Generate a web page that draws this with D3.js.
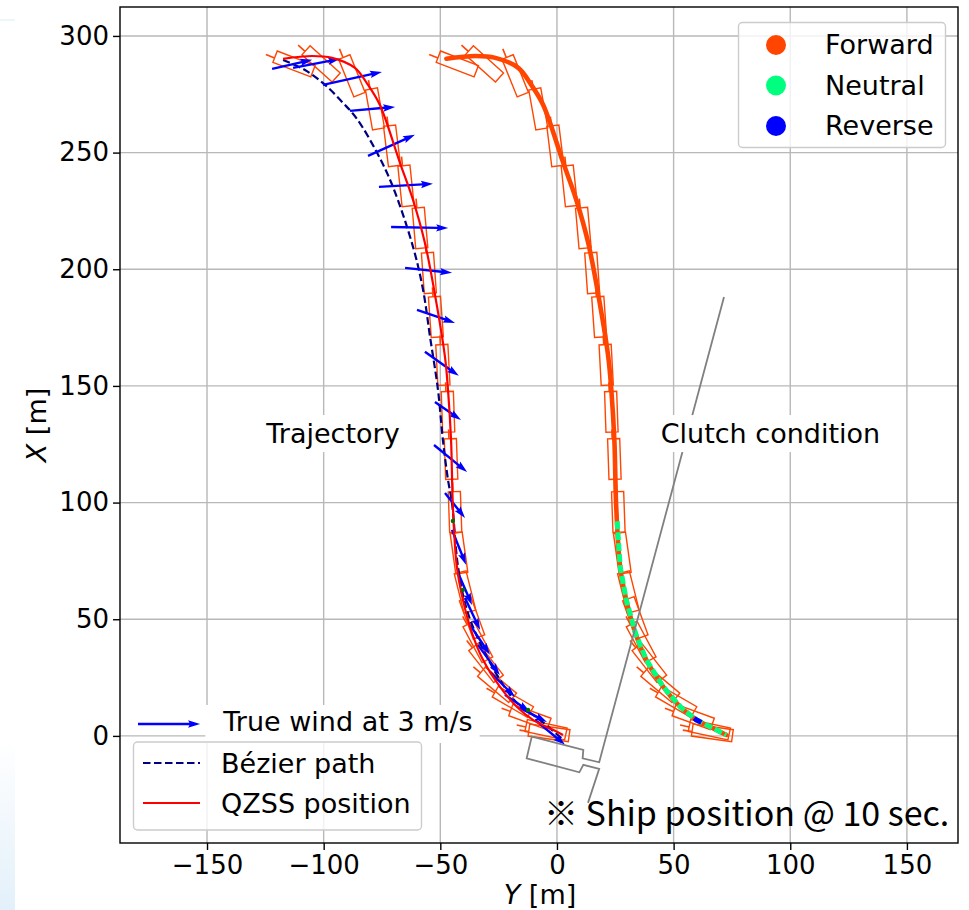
<!DOCTYPE html>
<html>
<head>
<meta charset="utf-8">
<script src="https://cdn.jsdelivr.net/npm/d3@7"></script>
<style>
  body { margin: 0; background: #fff; }
  svg text { font-family: "DejaVu Sans", sans-serif; fill: #000; }
</style>
</head>
<body>
<svg id="chart" width="969" height="910"></svg>
<script>
// ---------- data ----------
const yTickValues = [-150, -100, -50, 0, 50, 100, 150];   // horizontal axis (Y [m])
const xTickValues = [0, 50, 100, 150, 200, 250, 300];     // vertical axis (X [m])

// QZSS position track (Y, X) in metres
const qzssY = [-117.4, -105.0, -96.4, -86.6, -81.0, -75.9, -67.3, -61.7, -56.6, -51.9, -48.0, -46.7, -45.4, -44.6, -42.9, -40.3, -36.4, -31.7, -24.4, -17.1, -10.3, -1.7, 2.6];
const qzssX = [290.2, 291.4, 290.6, 286.3, 279.0, 270.4, 245.6, 229.7, 211.3, 186.9, 162.4, 148.3, 126.9, 98.2, 72.4, 58.3, 44.1, 32.6, 21.0, 12.4, 6.9, 2.6, 0.4];

// planned Bézier path (Y, X)
const bezierY = [-117.4, -108.0, -99.4, -91.6, -85.9, -77.1, -70.3, -61.7, -57.4, -54.4, -51.0, -48.9, -46.7, -45.0, -42.4, -38.6, -33.0, -24.4, -17.1, -7.3, 3.0];
const bezierX = [289.7, 285.4, 279.0, 271.2, 264.7, 249.9, 235.3, 209.6, 191.2, 171.0, 148.3, 126.9, 109.7, 99.9, 72.4, 54.0, 39.9, 24.0, 14.1, 6.9, -2.0];

// ship pose every 10 s: centre (Y, X) and heading [deg, clockwise from +X]
const shipY = [-112.7, -101.1, -87.9, -78.0, -70.7, -64.7, -58.7, -54.9, -51.9, -48.9, -46.7, -45.4, -43.7, -42.0, -39.4, -36.4, -33.9, -30.4, -25.7, -18.9, -11.6, -4.7, -3.4];
const shipX = [288.0, 288.0, 282.9, 268.7, 252.9, 235.7, 217.7, 198.4, 179.6, 159.0, 138.9, 118.7, 96.0, 78.4, 61.7, 50.6, 40.3, 31.3, 21.9, 14.6, 8.1, 2.6, 1.3];
const shipHeading = [111, 132, 158, 170, 173, 174, 175, 176, 176, 177, 178, 178, 178, 172, 166, 160, 152, 142, 130, 120, 110, 102, 98];

// true wind vectors: origin (Y, X) and components (u along Y, v along X) in m/s
const windY = [-122.1, -113.1, -100.3, -88.7, -81.0, -76.3, -71.1, -65.1, -60.0, -56.6, -52.3, -52.7, -48.0, -45.0, -42.0, -39.4, -37.3, -33.9, -28.7, -22.3, -15.9, -9.4];
const windX = [285.9, 286.3, 279.0, 267.9, 248.6, 235.3, 218.1, 200.6, 182.6, 164.6, 143.1, 124.7, 104.1, 88.3, 69.0, 59.1, 47.6, 39.0, 27.4, 17.6, 12.0, 6.9];
const windU = [1.94, 2.27, 2.85, 2.18, 2.27, 2.61, 2.76, 2.27, 1.84, 1.64, 1.26, 1.60, 0.97, 0.68, 0.63, 0.73, 0.97, 1.06, 1.21, 1.21, 1.31, 1.45];
const windV = [0.44, 0.44, 0.63, 0.19, 1.02, 0.15, -0.05, -0.24, -0.63, -1.16, -0.87, -1.31, -1.21, -1.69, -1.45, -1.55, -1.45, -1.45, -1.21, -0.82, -0.68, -1.21];
const windKeySpeed = 3;   // m/s

// clutch record (drawn beside the trajectory, shifted along Y)
const clutchOffsetY = 70;
const clutchSpanState = ["Neutral", "Reverse"];
const clutchSpanFromX = [92.0, 7.6];
const clutchSpanToX = [0.0, 5.8];

// small status markers on the QZSS track
const markerY = [-44.6, -40.3, -12.4];
const markerX = [92.1, 62.6, 11.1];

// ship outline used for the enlarged sketch, with its call-out lines
const sketchY = [71.6, 18.1, 11.0, 11.3, -10.8, -13.0, 9.6, 11.3, 18.1, 13.3];
const sketchX = [188.1, -11.3, -9.6, -6.0, -0.3, -9.6, -15.6, -12.4, -14.1, -28.7];

const stateNames = ["Forward", "Neutral", "Reverse"];
const stateColors = ["#ff4500", "#00ff7f", "#0000ff"];

// ---------- layout ----------
const svg = d3.select("#chart");
const plot = { left: 120, right: 958, top: 7, bottom: 843 };
const sx = d3.scaleLinear().domain([-187.3, 171.9]).range([plot.left, plot.right]);
const sy = d3.scaleLinear().domain([-45.9, 312.4]).range([plot.bottom, plot.top]);
const windLen = d3.scaleLinear().domain([0, windKeySpeed]).range([0, 26.6]); // metres of arrow per m/s
const labelSize = "27px";

// faint bluish edge along the left margin
const defs = svg.append("defs");
const lg = defs.append("linearGradient").attr("id", "edge").attr("x1", 0).attr("x2", 0).attr("y1", 0).attr("y2", 1);
lg.append("stop").attr("offset", "0").attr("stop-color", "#ffffff");
lg.append("stop").attr("offset", "1").attr("stop-color", "#e3f0fa");
svg.append("rect").attr("x", 0).attr("y", 740).attr("width", 15).attr("height", 170).attr("fill", "url(#edge)");
svg.append("line").attr("x1", 0).attr("x2", 15).attr("y1", 20).attr("y2", 20).attr("stroke", "#d8eef7").attr("stroke-width", 1);

defs.append("clipPath").attr("id", "plotclip").append("rect")
  .attr("x", plot.left).attr("y", plot.top)
  .attr("width", plot.right - plot.left).attr("height", plot.bottom - plot.top);

// grid
const grid = svg.append("g").attr("stroke", "#b8b8b8").attr("stroke-width", 1.4);
grid.selectAll(".gv").data(yTickValues).join("line")
  .attr("x1", d => sx(d)).attr("x2", d => sx(d)).attr("y1", plot.top).attr("y2", plot.bottom);
grid.selectAll(".gh").data(xTickValues).join("line")
  .attr("y1", d => sy(d)).attr("y2", d => sy(d)).attr("x1", plot.left).attr("x2", plot.right);

// axes
const axB = svg.append("g").attr("transform", `translate(0,${plot.bottom})`)
  .call(d3.axisBottom(sx).tickValues(yTickValues).tickSize(7).tickPadding(6));
const axL = svg.append("g").attr("transform", `translate(${plot.left},0)`)
  .call(d3.axisLeft(sy).tickValues(xTickValues).tickSize(7).tickPadding(4));
[axB, axL].forEach(a => {
  a.select(".domain").remove();
  a.selectAll("line").attr("stroke", "#000").attr("stroke-width", 1.4);
  a.selectAll("text").style("font-size", "26px").style("font-family", "DejaVu Sans");
});

const data = svg.append("g").attr("clip-path", "url(#plotclip)");
const line = d3.line().x(d => sx(d[0])).y(d => sy(d[1])).curve(d3.curveCatmullRom);

const track = qzssY.map((y, i) => [y, qzssX[i]]);
const bezier = bezierY.map((y, i) => [y, bezierX[i]]);

// ship rectangles with stern staff
const shipL = 17.4, shipW = 5.2, staff = 4.0, staffOff = -0.6;
function shipShape(cy, cx, hdg) {
  const r = hdg * Math.PI / 180;
  const d = [Math.sin(r), Math.cos(r)], p = [-Math.cos(r), Math.sin(r)];
  const pt = (a, b) => [cy + d[0] * a + p[0] * b, cx + d[1] * a + p[1] * b];
  const hull = [pt(shipL / 2, shipW / 2), pt(shipL / 2, -shipW / 2), pt(-shipL / 2, -shipW / 2), pt(-shipL / 2, shipW / 2)];
  const mast = [pt(-shipL / 2, staffOff), pt(-shipL / 2 - staff, staffOff)];
  return { hull, mast };
}
function drawShips(g, offY) {
  shipY.forEach((y, i) => {
    const s = shipShape(y + offY, shipX[i], shipHeading[i]);
    g.append("polygon")
      .attr("points", s.hull.map(q => [sx(q[0]), sy(q[1])].join(",")).join(" "))
      .attr("fill", "none").attr("stroke", stateColors[0]).attr("stroke-width", 1.4);
    g.append("line")
      .attr("x1", sx(s.mast[0][0])).attr("y1", sy(s.mast[0][1]))
      .attr("x2", sx(s.mast[1][0])).attr("y2", sy(s.mast[1][1]))
      .attr("stroke", stateColors[0]).attr("stroke-width", 1.6);
  });
}

// --- trajectory panel ---
drawShips(data, 0);
data.append("path").attr("d", line(bezier)).attr("fill", "none")
  .attr("stroke", "#000080").attr("stroke-width", 2.2).attr("stroke-dasharray", "7.5,3.5");

function arrowPath(x0, y0, x1, y1) {
  const w = 2.4, hw = 7.4, hl = 12, hal = 10.6;
  const L = Math.hypot(x1 - x0, y1 - y0);
  const pts = [[0, w / 2], [L - hal, w / 2], [L - hl, hw / 2], [L, 0], [L - hl, -hw / 2], [L - hal, -w / 2], [0, -w / 2]];
  const a = Math.atan2(y1 - y0, x1 - x0), c = Math.cos(a), s = Math.sin(a);
  return "M" + pts.map(p => [x0 + p[0] * c - p[1] * s, y0 + p[0] * s + p[1] * c].join(",")).join("L") + "Z";
}
windY.forEach((y, i) => {
  const x = windX[i];
  data.append("path")
    .attr("d", arrowPath(sx(y), sy(x), sx(y + windLen(windU[i])), sy(x + windLen(windV[i]))))
    .attr("fill", "#0000ff");
});
data.append("path").attr("d", line(track)).attr("fill", "none")
  .attr("stroke", "#ff0000").attr("stroke-width", 2.2);
data.selectAll(".mk").data(markerY).join("circle")
  .attr("cx", (d) => sx(d)).attr("cy", (d, i) => sy(markerX[i])).attr("r", 2.2).attr("fill", "#007000");

// --- clutch panel ---
drawShips(data, clutchOffsetY);
const shifted = track.map(p => [p[0] + clutchOffsetY, p[1]]);
data.append("path").attr("d", line(shifted)).attr("fill", "none")
  .attr("stroke", stateColors[0]).attr("stroke-width", 4.6).attr("stroke-linecap", "round");
function spanOf(pts, hi, lo) {
  const out = [];
  for (let i = 0; i < pts.length; i++) {
    const a = pts[i];
    if (a[1] <= hi && a[1] >= lo) out.push(a);
    const b = pts[i + 1];
    if (!b) break;
    [hi, lo].forEach(lim => {
      if ((a[1] - lim) * (b[1] - lim) < 0) {
        const t = (lim - a[1]) / (b[1] - a[1]);
        out.push([a[0] + t * (b[0] - a[0]), lim]);
      }
    });
  }
  return out.sort((p, q) => q[1] - p[1]);
}
clutchSpanState.forEach((st, i) => {
  const seg = spanOf(shifted, clutchSpanFromX[i], clutchSpanToX[i]);
  const col = stateColors[stateNames.indexOf(st)];
  data.append("path").attr("d", d3.line().x(d => sx(d[0])).y(d => sy(d[1]))(seg))
    .attr("fill", "none").attr("stroke", col).attr("stroke-width", 5)
    .attr("stroke-dasharray", st === "Neutral" ? "8,3" : null);
});

// enlarged ship sketch and call-out
data.append("path")
  .attr("d", d3.line().x(d => sx(d[0])).y(d => sy(d[1]))(sketchY.map((y, i) => [y, sketchX[i]])))
  .attr("fill", "none").attr("stroke", "#808080").attr("stroke-width", 1.8);

// ---------- labels with white boxes ----------
function boxedText(x, y, str, padL, padR, padT, padB) {
  const g = svg.append("g");
  const r = g.append("rect").attr("fill", "#fff");
  const t = g.append("text").attr("x", x).attr("y", y).attr("text-anchor", "middle")
    .style("font-size", labelSize).text(str);
  const b = t.node().getBBox();
  r.attr("x", b.x - padL).attr("y", b.y - padT).attr("width", b.width + padL + padR).attr("height", b.height + padT + padB);
  return g;
}
boxedText(sx(-96), sy(125.5), "Trajectory", 7, 7, 3, 3);
boxedText(sx(91.5), sy(125.5), "Clutch condition", 7, 7, 3, 3);
boxedText(348, 731, "True wind at 3 m/s", 17, 7, 1, 6);

// wind key arrow
const keyX0 = 138, keyY = 724;
const keyLenPx = sx(windLen(windKeySpeed)) - sx(0);
svg.append("path").attr("d", arrowPath(keyX0, keyY, keyX0 + keyLenPx, keyY)).attr("fill", "#0000ff");

// ---------- legend: paths ----------
const lg1 = svg.append("g");
lg1.append("rect").attr("x", 133.5).attr("y", 742).attr("width", 288).attr("height", 88).attr("rx", 4)
  .attr("fill", "#fff").attr("fill-opacity", 0.8).attr("stroke", "#cccccc").attr("stroke-width", 1.4);
lg1.append("line").attr("x1", 143).attr("x2", 200).attr("y1", 763).attr("y2", 763)
  .attr("stroke", "#000080").attr("stroke-width", 2.2).attr("stroke-dasharray", "7.5,3.5");
lg1.append("line").attr("x1", 143).attr("x2", 200).attr("y1", 803).attr("y2", 803)
  .attr("stroke", "#ff0000").attr("stroke-width", 2.2);
lg1.append("text").attr("x", 221).attr("y", 773).style("font-size", labelSize).text("Bézier path");
lg1.append("text").attr("x", 221).attr("y", 813).style("font-size", labelSize).text("QZSS position");

// ---------- legend: clutch states ----------
const lg2 = svg.append("g");
lg2.append("rect").attr("x", 738.5).attr("y", 22.5).attr("width", 207).attr("height", 125).attr("rx", 4)
  .attr("fill", "#fff").attr("fill-opacity", 0.8).attr("stroke", "#cccccc").attr("stroke-width", 1.4);
stateNames.forEach((n, i) => {
  lg2.append("circle").attr("cx", 776).attr("cy", 45 + i * 40.5).attr("r", 10).attr("fill", stateColors[i]);
  lg2.append("text").attr("x", 825).attr("y", 54 + i * 40.5).style("font-size", labelSize).text(n);
});

// note text
svg.append("text").attr("x", 544).attr("y", 826)
  .style("font-family", "'Noto Sans CJK JP', sans-serif").style("font-size", "34px")
  .text("※ Ship position @ 10 sec.");

// frame
svg.append("rect").attr("x", plot.left).attr("y", plot.top)
  .attr("width", plot.right - plot.left).attr("height", plot.bottom - plot.top)
  .attr("fill", "none").attr("stroke", "#000").attr("stroke-width", 1.4);

// axis titles
const xt = svg.append("text").attr("text-anchor", "middle").attr("transform", "translate(46,425) rotate(-90)")
  .style("font-size", labelSize);
xt.append("tspan").style("font-style", "italic").text("X");
xt.append("tspan").text(" [m]");
const yt = svg.append("text").attr("text-anchor", "middle").attr("x", 540).attr("y", 904)
  .style("font-size", labelSize);
yt.append("tspan").style("font-style", "italic").text("Y");
yt.append("tspan").text(" [m]");
</script>
</body>
</html>
